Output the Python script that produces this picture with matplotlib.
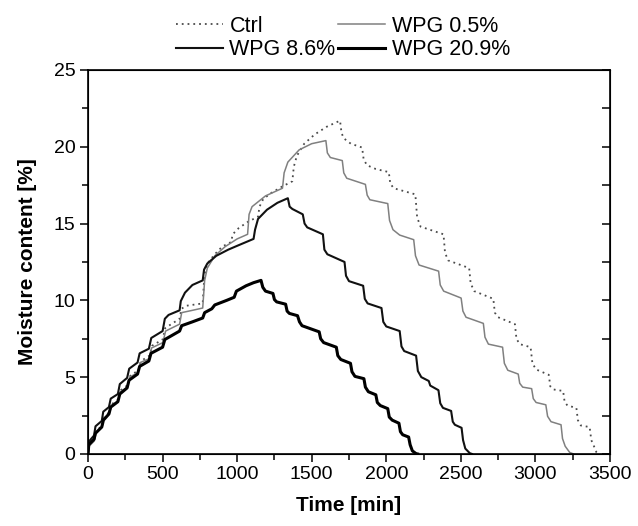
import matplotlib
matplotlib.use("Agg")
import matplotlib.pyplot as plt
from matplotlib.ticker import MultipleLocator

# values (time in min, moisture content in %)
ctrl_t = [0, 6, 45, 58, 97, 110, 145, 160, 205, 220, 268, 284, 338, 355, 412, 430,
          500, 518, 614, 626, 660, 769, 780, 800, 850, 900, 960, 970, 1010, 1070, 1140,
          1150, 1175, 1230, 1300, 1370, 1380, 1400, 1450, 1520, 1600, 1690,
          1700, 1715, 1762, 1838, 1848, 1870, 1930, 2017, 2027, 2050, 2195, 2207, 2230,
          2384, 2394, 2415, 2556, 2566, 2590, 2718, 2728, 2750, 2863, 2873, 2895, 2968,
          2980, 3005, 3090, 3100, 3120, 3186, 3196, 3215, 3275, 3285, 3305, 3364, 3375,
          3393, 3410, 3420]
ctrl_mc = [0, 0.6, 1.0, 1.5, 1.9, 2.4, 2.75, 3.25, 3.55, 4.15, 4.5, 5.1, 5.45, 6.05, 6.4, 7.05,
           7.45, 8.2, 8.8, 9.45, 9.65, 9.8, 11.6, 12.4, 13.0, 13.5, 13.8, 14.3, 14.7, 15.1, 15.45,
           16.1, 16.6, 17.0, 17.4, 17.75, 18.7, 19.4, 20.2, 20.8, 21.3, 21.7,
           20.9, 20.55, 20.2, 19.95, 19.2, 18.8, 18.55, 18.35, 17.6, 17.3, 16.9, 15.4, 14.8,
           14.3, 13.1, 12.6, 12.1, 11.1, 10.6, 10.1, 9.2, 8.9, 8.45, 7.5, 7.15, 6.95,
           5.9, 5.5, 5.15, 4.4, 4.2, 4.1, 3.4, 3.15, 3.0, 2.2, 1.85, 1.75, 0.9,
           0.5, 0.1, 0]

w05_t = [0, 7, 42, 54, 94, 106, 142, 156, 202, 216, 264, 280, 334, 350, 410, 426,
         502, 520, 614, 628, 700, 769, 782, 800, 850, 920, 1000, 1070, 1080, 1100, 1190,
         1304, 1315, 1340, 1416, 1500, 1595,
         1605, 1625, 1705, 1715, 1735, 1860, 1872, 1890, 2010, 2022, 2045, 2090, 2184,
         2196, 2220, 2351, 2362, 2385, 2502, 2514, 2535, 2651, 2662, 2685, 2780, 2792,
         2815, 2885, 2895, 2915, 2975, 2986, 3005, 3070, 3082, 3105, 3172, 3182, 3200,
         3230, 3255]
w05_mc = [0, 0.5, 0.85, 1.4, 1.75, 2.3, 2.6, 3.15, 3.45, 4.05, 4.35, 5.0, 5.3, 5.95, 6.2, 6.9,
          7.25, 8.0, 8.45, 9.2, 9.35, 9.5, 11.3, 12.1, 12.9, 13.5, 14.0, 14.3, 15.6, 16.1, 16.8,
          17.3, 18.3, 19.0, 19.8, 20.2, 20.4,
          19.6, 19.3, 19.1, 18.3, 17.95, 17.55, 16.85, 16.55, 16.3, 15.2, 14.6, 14.25, 13.95,
          12.9, 12.3, 11.9, 11.0, 10.6, 10.15, 9.3, 8.9, 8.5, 7.6, 7.15, 6.95, 5.9,
          5.45, 5.2, 4.6, 4.35, 4.25, 3.6, 3.35, 3.2, 2.45, 2.1, 1.9, 1.0, 0.5,
          0.1, 0]

w86_t = [0, 5, 40, 50, 92, 102, 140, 152, 200, 213, 262, 276, 332, 346, 408, 424,
         500, 515, 540, 614, 622, 650, 700, 769, 778, 800, 860, 940, 1000, 1110, 1120,
         1140, 1200, 1270, 1340,
         1352, 1370, 1440, 1452, 1470, 1575, 1585, 1605, 1720, 1730, 1750, 1845, 1856,
         1875, 1968, 1980, 2000, 2090, 2102, 2120, 2200, 2212, 2235, 2285, 2295, 2350,
         2362, 2380, 2435, 2446, 2460, 2505, 2515, 2530, 2560, 2575]
w86_mc = [0, 0.8, 1.2, 1.8, 2.15, 2.75, 3.05, 3.6, 3.9, 4.55, 4.95, 5.55, 5.95, 6.55, 6.85, 7.55,
          8.0, 8.8, 9.05, 9.35, 9.95, 10.5, 11.0, 11.3, 12.0, 12.4, 12.9, 13.3, 13.55, 14.0, 14.6,
          15.3, 15.9, 16.35, 16.65,
          16.1, 15.95, 15.6, 15.0, 14.75, 14.3, 13.3, 13.0, 12.5, 11.6, 11.25, 10.95, 10.1,
          9.8, 9.5, 8.6, 8.3, 8.0, 7.0, 6.7, 6.4, 5.4, 5.0, 4.75, 4.45, 4.15,
          3.3, 3.0, 2.8, 2.1, 1.9, 1.7, 0.9, 0.35, 0.05, 0]

w209_t = [0, 5, 40, 50, 92, 103, 140, 152, 200, 213, 262, 275, 332, 346, 408, 422,
          500, 515, 614, 628, 700, 769, 782, 830, 850, 930, 980, 995, 1060, 1110, 1160,
          1172, 1190, 1240, 1250, 1265, 1325, 1335, 1350, 1405, 1418, 1435, 1550, 1560,
          1580, 1665, 1675, 1695, 1760, 1770, 1790, 1850, 1860, 1880, 1930, 1940, 1960,
          2010, 2020, 2040, 2085, 2095, 2110, 2150, 2160, 2175, 2200, 2210]
w209_mc = [0, 0.6, 0.95, 1.35, 1.75, 2.2, 2.6, 3.05, 3.4, 3.9, 4.3, 4.8, 5.2, 5.7, 6.05, 6.55,
           6.95, 7.45, 8.0, 8.35, 8.6, 8.85, 9.2, 9.45, 9.7, 10.0, 10.2, 10.6, 10.95, 11.15, 11.3,
           10.85, 10.6, 10.45, 10.05, 9.9, 9.75, 9.3, 9.15, 9.0, 8.6, 8.35, 7.95, 7.5,
           7.25, 6.95, 6.4, 6.15, 5.9, 5.35, 5.05, 4.9, 4.35, 4.05, 3.85, 3.35, 3.15,
           2.95, 2.4, 2.2, 2.0, 1.45, 1.25, 1.1, 0.6, 0.2, 0.02, 0]

plt.rcParams.update({"font.family": ["Liberation Sans", "DejaVu Sans"], "font.size": 14})

fig = plt.figure(figsize=(6.38, 5.26), dpi=100)
ax = fig.add_axes([0.138, 0.137, 0.818, 0.730])

l_ctrl, = ax.plot(ctrl_t, ctrl_mc, color="#4a4a4a", lw=1.3, linestyle=(0, (1, 2.2)), label="Ctrl")
l_05, = ax.plot(w05_t, w05_mc, color="#808080", lw=1.1, label="WPG 0.5%")
l_86, = ax.plot(w86_t, w86_mc, color="#111111", lw=1.5, label="WPG 8.6%")
l_209, = ax.plot(w209_t, w209_mc, color="#000000", lw=2.2, label="WPG 20.9%")

ax.set_xlim(0, 3500)
ax.set_ylim(0, 25)
ax.xaxis.set_major_locator(MultipleLocator(500))
ax.xaxis.set_minor_locator(MultipleLocator(250))
ax.yaxis.set_major_locator(MultipleLocator(5))
ax.yaxis.set_minor_locator(MultipleLocator(2.5))
ax.tick_params(which="both", direction="out", width=1.1, labelsize=14, pad=3)
ax.tick_params(which="major", length=6)
ax.tick_params(which="minor", length=4)
for sp in ax.spines.values():
    sp.set_linewidth(1.2)

# inward ticks along the right-hand spine, no labels
ax_r = ax.twinx()
ax_r.set_ylim(ax.get_ylim())
ax_r.yaxis.set_major_locator(MultipleLocator(2.5))
ax_r.tick_params(axis="y", direction="in", length=6, width=1.1, labelright=False)

ax.set_xlabel("Time [min]", fontweight="bold", fontsize=15, labelpad=9)
ax.set_ylabel("Moisture content [%]", fontweight="bold", fontsize=15, labelpad=12)

ax.legend([l_ctrl, l_86, l_05, l_209], ["Ctrl", "WPG 8.6%", "WPG 0.5%", "WPG 20.9%"],
          ncol=2, frameon=False, loc="lower center", bbox_to_anchor=(0.488, 1.02),
          fontsize=15.5, handlelength=2.2, handletextpad=0.3, columnspacing=0.1,
          labelspacing=0.1, borderaxespad=0.0, borderpad=0.1)

fig.savefig("out.png", dpi=100)
